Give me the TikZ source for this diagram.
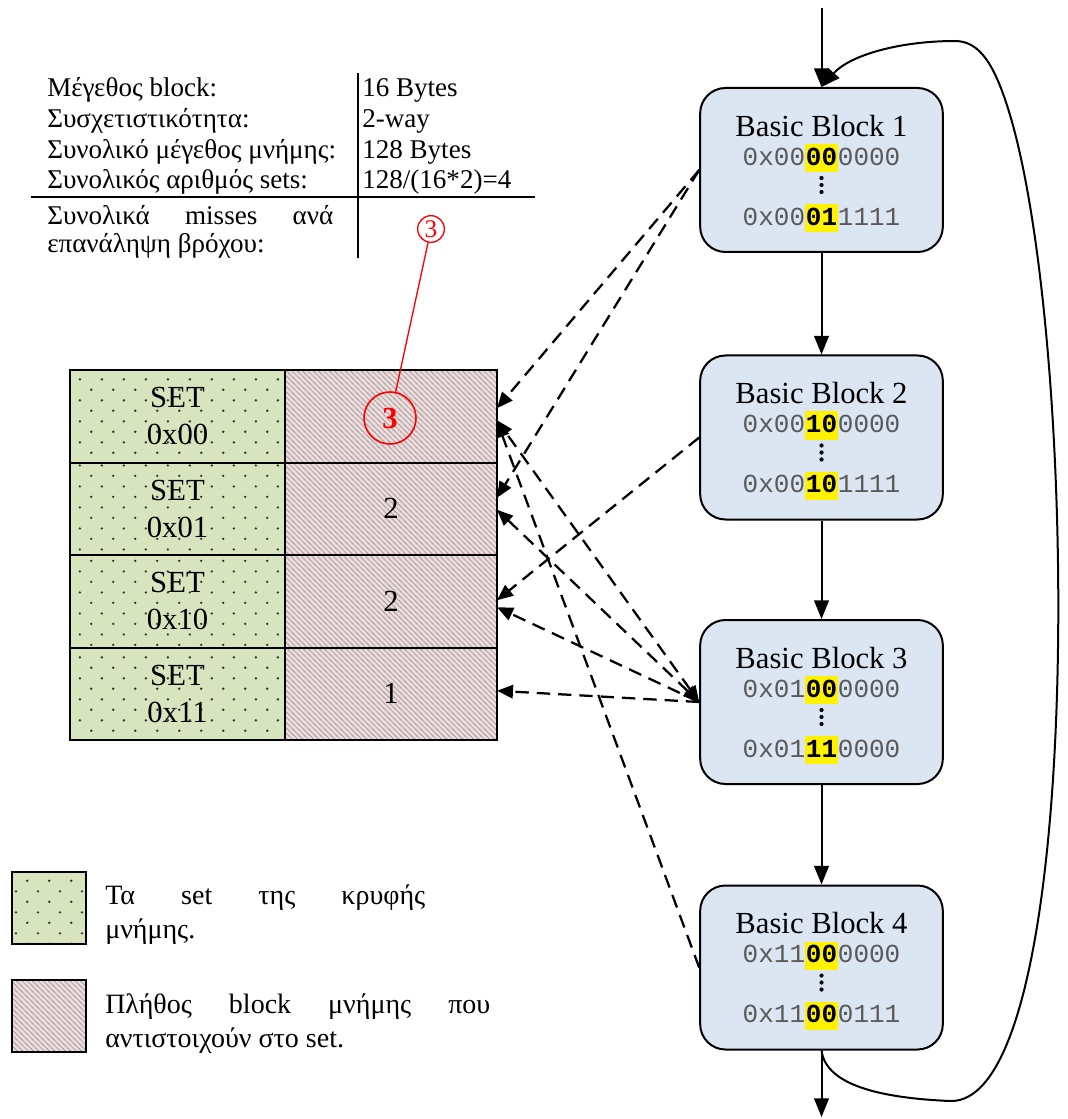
\documentclass[tikz,border=0pt]{standalone}
\usepackage{fontspec}
\setmainfont{Liberation Serif}
\setmonofont{Liberation Mono}
\usetikzlibrary{arrows.meta,calc,patterns}
\definecolor{setgreen}{HTML}{D7E4BD}
\definecolor{setpink}{HTML}{F2DCDB}
\definecolor{bbfill}{HTML}{DCE6F2}
\pgfdeclarepatternformonly{stagdots}{\pgfqpoint{0pt}{0pt}}{\pgfqpoint{16.2pt}{16pt}}{\pgfqpoint{16.2pt}{16pt}}{%
  \pgfpathcircle{\pgfqpoint{4pt}{4pt}}{1pt}%
  \pgfpathcircle{\pgfqpoint{12.1pt}{12pt}}{1pt}%
  \pgfusepath{fill}}
\pgfdeclarepatternformonly{nwstripes}{\pgfqpoint{-1pt}{-1pt}}{\pgfqpoint{5pt}{5pt}}{\pgfqpoint{4pt}{4pt}}{%
  \pgfsetlinewidth{0.75pt}%
  \pgfpathmoveto{\pgfqpoint{-1pt}{5pt}}\pgfpathlineto{\pgfqpoint{5pt}{-1pt}}%
  \pgfusepath{stroke}}
\newcommand\hlb[1]{{\setlength{\fboxsep}{0pt}\colorbox{yellow}{\rule[-5pt]{0pt}{21pt}\kern0.6pt\textbf{\color{black}#1}\kern0.6pt}}}
\newcommand\bblock[5]{%
  \node[bb] (#1) at (821.5,#2) {};
  \node[bbtitle] (#1t) at ($(#1.center)+(0,-44)$) {Basic Block #3};
  \node[bbaddr] (#1a) at ($(#1.center)+(0,-12)$) {#4};
  \fill ($(#1.center)+(0,8)$) circle [radius=2.1];
  \fill ($(#1.center)+(0,15)$) circle [radius=2.1];
  \fill ($(#1.center)+(0,22)$) circle [radius=2.1];
  \node[bbaddr] (#1b) at ($(#1.center)+(0,48)$) {#5};
}
\begin{document}
\begin{tikzpicture}[x=0.75pt,y=-0.75pt,
  bb/.style={draw, line width=1.5pt, rounded corners=19pt, fill=bbfill, minimum width=182pt, minimum height=123pt, inner sep=0pt},
  bbtitle/.style={font=\fontsize{23}{27}\selectfont, inner sep=0pt},
  bbaddr/.style={font=\ttfamily\fontsize{19.5}{22}\selectfont\color{black!65}, inner sep=0pt},
  tabtext/.style={font=\fontsize{20.3}{23}\selectfont, inner sep=0pt, anchor=base west},
  legtext/.style={font=\fontsize{21}{25.5}\selectfont, inner sep=0pt, anchor=base west},
  greencell/.style={draw, line width=1.5pt, preaction={fill=setgreen}, pattern=stagdots, pattern color=black!80, minimum width=161.25pt, minimum height=69.375pt, inner sep=0pt, outer sep=0pt},
  pinkcell/.style={draw, line width=1.5pt, preaction={fill=setpink}, pattern=nwstripes, pattern color=black!32, minimum width=159pt, minimum height=69.375pt, inner sep=0pt, outer sep=0pt},
  settext/.style={font=\fontsize{23}{27.75}\selectfont, align=center, inner sep=0pt},
  flow/.style={line width=1.5pt, -{Triangle[length=14pt,width=11pt]}},
  maparrow/.style={line width=1.7pt, dash pattern=on 10pt off 6pt, -{Triangle[length=12pt,width=10pt]}},
  mapboth/.style={line width=1.7pt, dash pattern=on 10pt off 6pt, {Triangle[length=12pt,width=10pt]}-{Triangle[length=12pt,width=10pt]}},
  rule/.style={line width=1.1pt}
]
\path[use as bounding box, fill=white] (0,0) rectangle (1067,1119);

% ---------- parameter table ----------
\node[tabtext] (l1) at (47,97) {Μέγεθος block:};
\node[tabtext] (l2) at (47,128) {Συσχετιστικότητα:};
\node[tabtext] (l3) at (47,159) {Συνολικό μέγεθος μνήμης:};
\node[tabtext] (l4) at (47,189) {Συνολικός αριθμός sets:};
\node[tabtext] (l5) at (47,225) {\makebox[214.5pt][s]{Συνολικά misses ανά}};
\node[tabtext] (l6) at (47,253) {επανάληψη βρόχου:};
\node[tabtext] (r1) at (362,97) {16 Bytes};
\node[tabtext] (r2) at (362,128) {2-way};
\node[tabtext] (r3v) at (362,159) {128 Bytes};
\node[tabtext] (r4) at (362,189) {128/(16*2)=4};
\coordinate (vt) at (358,73);
\coordinate (vb) at (358,258);
\coordinate (hl) at (31,197);
\coordinate (hr) at (535,197);
\draw[rule] (vt) -- (vb);
\draw[rule] (hl) -- (hr);

% ---------- sets ----------
\node[greencell] (g0) at (177.5,416.25) {};
\node[greencell] (g1) at (177.5,508.75) {};
\node[greencell] (g2) at (177.5,601.25) {};
\node[greencell] (g3) at (177.5,693.75) {};
\node[pinkcell] (c0) at (391,416.25) {};
\node[pinkcell] (c1) at (391,508.75) {\fontsize{23}{27}\selectfont 2};
\node[pinkcell] (c2) at (391,601.25) {\fontsize{23}{27}\selectfont 2};
\node[pinkcell] (c3) at (391,693.75) {\fontsize{23}{27}\selectfont 1};
\node[settext] (s0) at (g0) {SET\\0x00};
\node[settext] (s1) at (g1) {SET\\0x01};
\node[settext] (s2) at (g2) {SET\\0x10};
\node[settext] (s3) at (g3) {SET\\0x11};

% ---------- red annotation ----------
\node[circle, draw=red, line width=1pt, minimum size=20pt, inner sep=0pt, text=red, font=\fontsize{19}{22}\selectfont] (sm3) at (431,229) {3};
\node[circle, draw=red, line width=1.2pt, minimum size=39pt, inner sep=0pt, text=red, font=\bfseries\fontsize{23}{26}\selectfont] (big3) at (390,418) {3};
\draw[red, line width=1pt] (sm3) -- (big3);

% ---------- basic blocks ----------
\bblock{bb1}{170}{1}{0x00\hlb{00}0000}{0x00\hlb{01}1111}
\bblock{bb2}{437.5}{2}{0x00\hlb{10}0000}{0x00\hlb{10}1111}
\bblock{bb3}{702}{3}{0x01\hlb{00}0000}{0x01\hlb{11}0000}
\bblock{bb4}{967.5}{4}{0x11\hlb{00}0000}{0x11\hlb{00}0111}

\coordinate (start) at (821.5,8);
\coordinate (end) at (821.5,1117);
\draw[flow] (start) -- (bb1.north);
\draw[flow] (bb1) -- (bb2);
\draw[flow] (bb2) -- (bb3);
\draw[flow] (bb3) -- (bb4);
\draw[flow] (bb4.south) -- (end);
\draw[flow] (bb4.south) .. controls (826,1085) and (880,1098) .. (950,1101)
  .. controls (1085,1105) and (1080,350) .. (1010,115)
  .. controls (995,65) and (980,41) .. (955,41)
  .. controls (900,41) and (850,55) .. (bb1.north);

% ---------- mapping arrows ----------
\draw[maparrow] (bb1.west) -- ($(c0.east)+(0,-8)$);
\draw[maparrow] (bb1.west) -- ($(c1.east)+(0,-11)$);
\draw[maparrow] (bb2.west) -- ($(c2.east)+(0,-1)$);
\draw[mapboth] (bb3.west) -- ($(c0.east)+(0,4)$);
\draw[mapboth] (bb3.west) -- ($(c1.east)+(0,1)$);
\draw[maparrow] (bb3.west) -- ($(c2.east)+(0,6)$);
\draw[maparrow] (bb3.west) -- ($(c3.east)+(0,-3)$);
\draw[maparrow] (bb4.west) -- ($(c0.east)+(0,5)$);

% ---------- legend ----------
\node[greencell, minimum width=55.5pt, minimum height=54pt] (lg1) at (49,908) {};
\node[pinkcell, minimum width=55.5pt, minimum height=54pt] (lg2) at (49,1015.5) {};
\node[legtext] (lt1) at (105,904) {\makebox[240pt][s]{Τα set της κρυφής}};
\node[legtext] (lt1b) at (105,938) {μνήμης.};
\node[legtext] (lt2) at (105,1013) {\makebox[288.75pt][s]{Πλήθος block μνήμης που}};
\node[legtext] (lt2b) at (105,1047) {αντιστοιχούν στο set.};
\end{tikzpicture}
\end{document}
